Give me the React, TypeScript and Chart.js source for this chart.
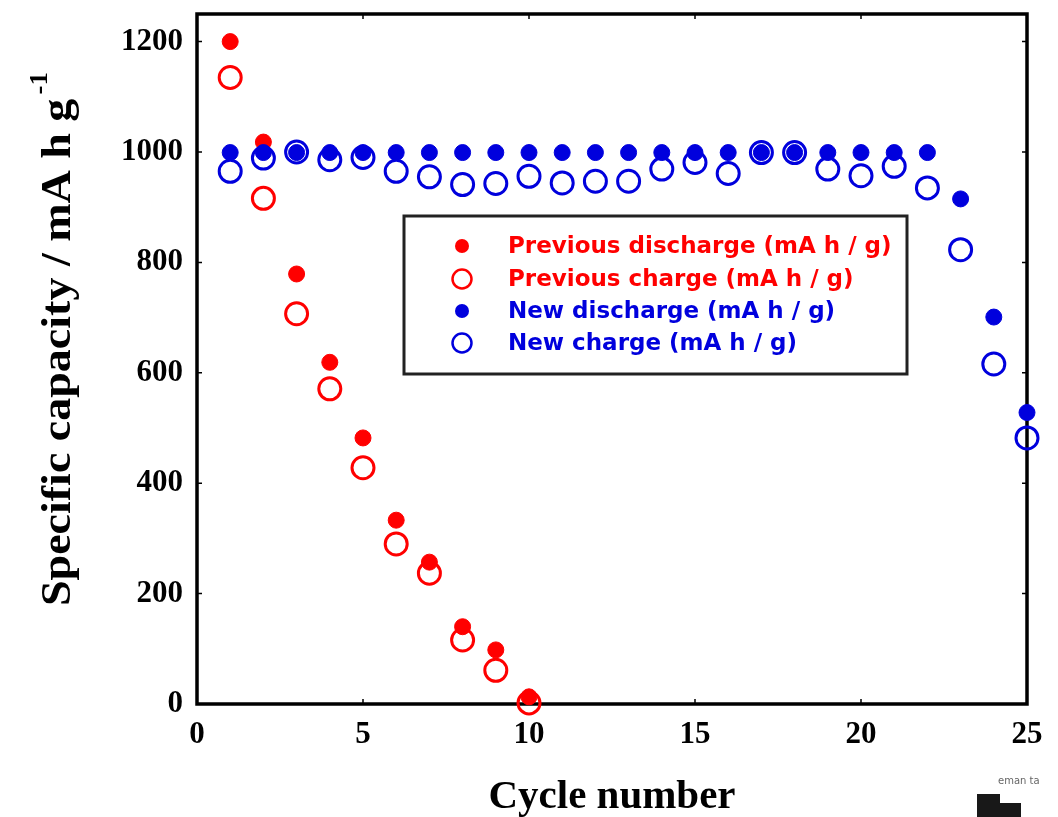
import React, { useEffect, useRef } from "react";
import { Chart, registerables } from "chart.js";

Chart.register(...registerables);

const cycles = [1, 2, 3, 4, 5, 6, 7, 8, 9, 10, 11, 12, 13, 14, 15, 16, 17, 18, 19, 20, 21, 22, 23, 24, 25];
const xTicks = [0, 5, 10, 15, 20, 25];
const yTicks = [0, 200, 400, 600, 800, 1000, 1200];

const prevDischarge = [1200, 1018, 779, 619, 482, 333, 257, 140, 98, 13];
const prevCharge = [1135, 916, 707, 571, 428, 290, 237, 116, 61, 2];
const newDischarge = [999, 999, 999, 999, 999, 999, 999, 999, 999, 999, 999, 999, 999, 999, 999, 999, 999, 999, 999, 999, 999, 999, 915, 701, 528];
const newCharge = [965, 989, 1000, 986, 990, 965, 955, 941, 943, 956, 944, 947, 947, 969, 981, 961, 999, 999, 969, 957, 974, 935, 823, 616, 482];

const seriesLabels = [
  "Previous discharge (mA h / g)",
  "Previous charge (mA h / g)",
  "New discharge (mA h / g)",
  "New charge (mA h / g)",
];

const xTitle = "Cycle number";
const yTitle = "Specific capacity / mA h g";
const yTitleSup = "-1";

const RED = "#ff0000";
const BLUE = "#0000dd";

export default function App() {
  const ref = useRef<HTMLCanvasElement>(null);

  useEffect(() => {
    document.body.style.margin = "0";
    const canvas = ref.current;
    if (!canvas) return;

    const pts = (ys: number[]) => ys.map((y, i) => ({ x: cycles[i], y }));

    const filled = (color: string) => ({
      backgroundColor: color,
      borderColor: color,
      pointRadius: 8,
      pointBorderWidth: 1,
      pointStyle: "circle" as const,
    });
    const open = (color: string) => ({
      backgroundColor: "rgba(255,255,255,0)",
      borderColor: color,
      pointRadius: 11,
      pointBorderWidth: 3,
      pointStyle: "circle" as const,
    });

    const datasets = [
      { label: seriesLabels[0], data: pts(prevDischarge), ...filled(RED), order: 3, clip: false as const },
      { label: seriesLabels[1], data: pts(prevCharge), ...open(RED), order: 4, clip: false as const },
      { label: seriesLabels[2], data: pts(newDischarge), ...filled(BLUE), order: 1, clip: false as const },
      { label: seriesLabels[3], data: pts(newCharge), ...open(BLUE), order: 2, clip: false as const },
    ];

    const serif = "'Liberation Serif', 'Times New Roman', serif";

    const decor = {
      id: "decor",
      beforeDatasetsDraw(chart: any) {
        const { ctx, chartArea: a, scales } = chart;
        ctx.save();
        ctx.strokeStyle = "#000";
        ctx.lineWidth = 1.5;
        for (const t of xTicks) {
          const px = scales.x.getPixelForValue(t);
          ctx.beginPath();
          ctx.moveTo(px, a.bottom);
          ctx.lineTo(px, a.bottom - 5);
          ctx.moveTo(px, a.top);
          ctx.lineTo(px, a.top + 5);
          ctx.stroke();
        }
        for (const t of yTicks) {
          const py = scales.y.getPixelForValue(t);
          ctx.beginPath();
          ctx.moveTo(a.left, py);
          ctx.lineTo(a.left + 5, py);
          ctx.moveTo(a.right, py);
          ctx.lineTo(a.right - 5, py);
          ctx.stroke();
        }
        ctx.lineWidth = 3.5;
        ctx.strokeRect(a.left, a.top, a.right - a.left, a.bottom - a.top);
        ctx.restore();
      },
      afterDraw(chart: any) {
        const { ctx } = chart;
        ctx.save();
        // Legend box
        ctx.fillStyle = "#fff";
        ctx.fillRect(404, 216, 503, 158);
        ctx.strokeStyle = "#222";
        ctx.lineWidth = 3;
        ctx.strokeRect(404, 216, 503, 158);
        const rows = [246, 279, 311, 343];
        chart.data.datasets.forEach((ds: any, i: number) => {
          const y = rows[i];
          const x = 462;
          ctx.beginPath();
          if (ds.pointBorderWidth === 3) {
            ctx.arc(x, y, 9.5, 0, Math.PI * 2);
            ctx.lineWidth = 2.5;
            ctx.strokeStyle = ds.borderColor;
            ctx.stroke();
          } else {
            ctx.arc(x, y, 7, 0, Math.PI * 2);
            ctx.fillStyle = ds.backgroundColor;
            ctx.fill();
          }
          ctx.fillStyle = ds.borderColor;
          ctx.font = "bold 23px 'DejaVu Sans', sans-serif";
          ctx.textAlign = "left";
          ctx.textBaseline = "middle";
          ctx.fillText(ds.label, 508, y + 1);
        });

        // Y title with superscript
        ctx.fillStyle = "#000";
        ctx.save();
        ctx.translate(70, 606);
        ctx.rotate(-Math.PI / 2);
        ctx.scale(1.07, 1);
        ctx.textAlign = "left";
        ctx.textBaseline = "alphabetic";
        ctx.font = `bold 43px ${serif}`;
        ctx.fillText(yTitle, 0, 0);
        const w = ctx.measureText(yTitle).width;
        ctx.font = `bold 25px ${serif}`;
        ctx.fillText(yTitleSup, w + 4, -23);
        ctx.restore();

        // X title
        ctx.font = `bold 41px ${serif}`;
        ctx.textAlign = "center";
        ctx.textBaseline = "alphabetic";
        ctx.fillText(xTitle, 612, 808);

        // small corner artifact
        ctx.fillStyle = "#181818";
        ctx.fillRect(977, 794, 44, 23);
        ctx.fillStyle = "#fff";
        ctx.fillRect(1000, 794, 21, 9);
        ctx.font = "10px 'DejaVu Sans', sans-serif";
        ctx.fillStyle = "#666";
        ctx.textAlign = "left";
        ctx.fillText("eman ta", 998, 784);
        ctx.restore();
      },
    };

    const chart = new Chart(canvas, {
      type: "scatter",
      data: { datasets },
      options: {
        responsive: false,
        animation: false,
        layout: { padding: { left: 0, top: 12, right: 31, bottom: 0 } },
        plugins: {
          legend: { display: false },
          tooltip: { enabled: false },
        },
        scales: {
          x: {
            type: "linear",
            min: 0,
            max: 25,
            grid: { display: false, drawTicks: false },
            border: { display: false },
            ticks: {
              autoSkip: false,
              maxRotation: 0,
              padding: 12,
              color: "#000",
              font: { family: serif, size: 31, weight: "bold" },
              callback: (v: any) => String(v),
            },
            afterBuildTicks: (s: any) => {
              s.ticks = xTicks.map((v) => ({ value: v }));
            },
            afterFit: (s: any) => {
              s.height = 113;
              s.paddingLeft = 0;
              s.paddingRight = 0;
            },
          },
          y: {
            type: "linear",
            min: 0,
            max: 1250,
            grid: { display: false, drawTicks: false },
            border: { display: false },
            ticks: {
              autoSkip: false,
              padding: 14,
              color: "#000",
              font: { family: serif, size: 31, weight: "bold" },
              callback: (v: any) => String(v),
            },
            afterBuildTicks: (s: any) => {
              s.ticks = yTicks.map((v) => ({ value: v }));
            },
            afterFit: (s: any) => {
              s.width = 197;
              s.paddingTop = 0;
              s.paddingBottom = 0;
            },
          },
        },
      },
      plugins: [decor],
    });

    return () => chart.destroy();
  }, []);

  return <canvas ref={ref} width={1058} height={817} style={{ display: "block" }} />;
}
